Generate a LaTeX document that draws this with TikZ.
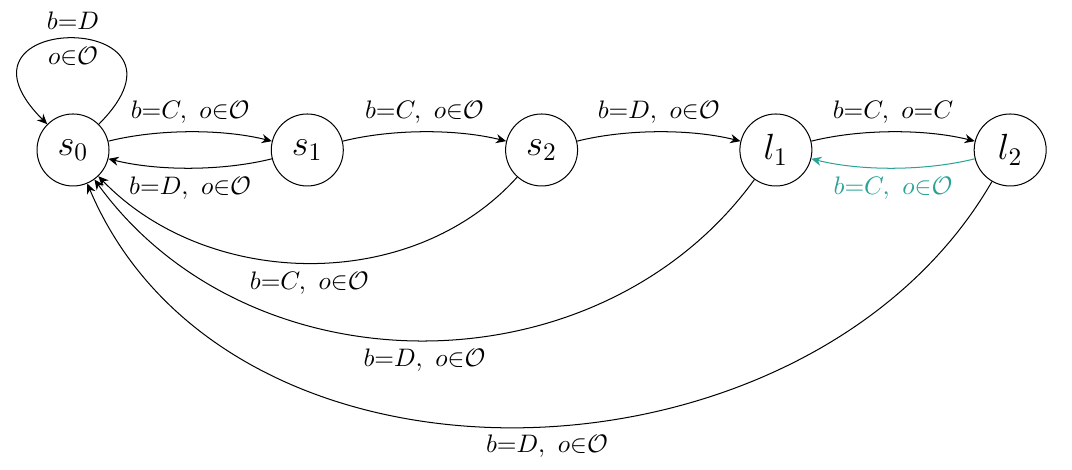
\documentclass[tikz,border=0pt]{standalone}
\usepackage{amsmath}
\usepackage{amssymb}
\usepackage{tikz}
\usetikzlibrary{
    arrows.meta,
    positioning
}
\definecolor{TealLbl}{RGB}{42,163,150}

\begin{document}
\begin{tikzpicture}[
    node distance = 2.24cm,
    state/.style  = {circle, draw, minimum size=1cm, inner sep=0pt,
                     font=\Large},
    lbl/.style    = {font=\normalsize},
    arr/.style    = {-{Stealth[length=4pt, width=3.6pt]}},
    arrb/.style   = {arr, color=TealLbl},
    short/.style  = {bend left=14, looseness=0.8},
  ]
  \useasboundingbox (-1.014,2.083) rectangle (13.875,-4.444);

  \node[state]               (s0) {$s_0$};
  \node[state, right=of s0]  (s1) {$s_1$};
  \node[state, right=of s1]  (s2) {$s_2$};
  \node[state, right=of s2]  (l1) {$l_1$};
  \node[state, right=of l1]  (l2) {$l_2$};

  % self loop
  \draw[arr] (s0) to[out=45, in=135, min distance=2.25cm]
    node[lbl, above] {$b{=}D$} node[lbl, below] {$o{\in}\mathcal{O}$} (s0);

  \draw[arr]  (s0) to[short] node[lbl, above] {$b{=}C,\ o{\in}\mathcal{O}$} (s1);
  \draw[arr]  (s1) to[short] node[lbl, below] {$b{=}D,\ o{\in}\mathcal{O}$} (s0);
  \draw[arr]  (s1) to[short] node[lbl, above] {$b{=}C,\ o{\in}\mathcal{O}$} (s2);
  \draw[arr]  (s2) to[short] node[lbl, above] {$b{=}D,\ o{\in}\mathcal{O}$} (l1);
  \draw[arr]  (l1) to[short] node[lbl, above] {$b{=}C,\ o{=}C$} (l2);
  \draw[arrb] (l2) to[short] node[lbl, below] {$b{=}C,\ o{\in}\mathcal{O}$} (l1);

  % back to s0
  \draw[arr] (s2) to[out=228, in=314, looseness=0.96]
    node[lbl, below] {$b{=}C,\ o{\in}\mathcal{O}$} (s0);
  \draw[arr] (l1) to[out=234, in=306, looseness=1.03]
    node[lbl, below] {$b{=}D,\ o{\in}\mathcal{O}$} (s0);
  \draw[arr] (l2) to[out=240, in=293, looseness=1.03]
    node[lbl, below, pos=0.48] {$b{=}D,\ o{\in}\mathcal{O}$} (s0);

\end{tikzpicture}
\end{document}
